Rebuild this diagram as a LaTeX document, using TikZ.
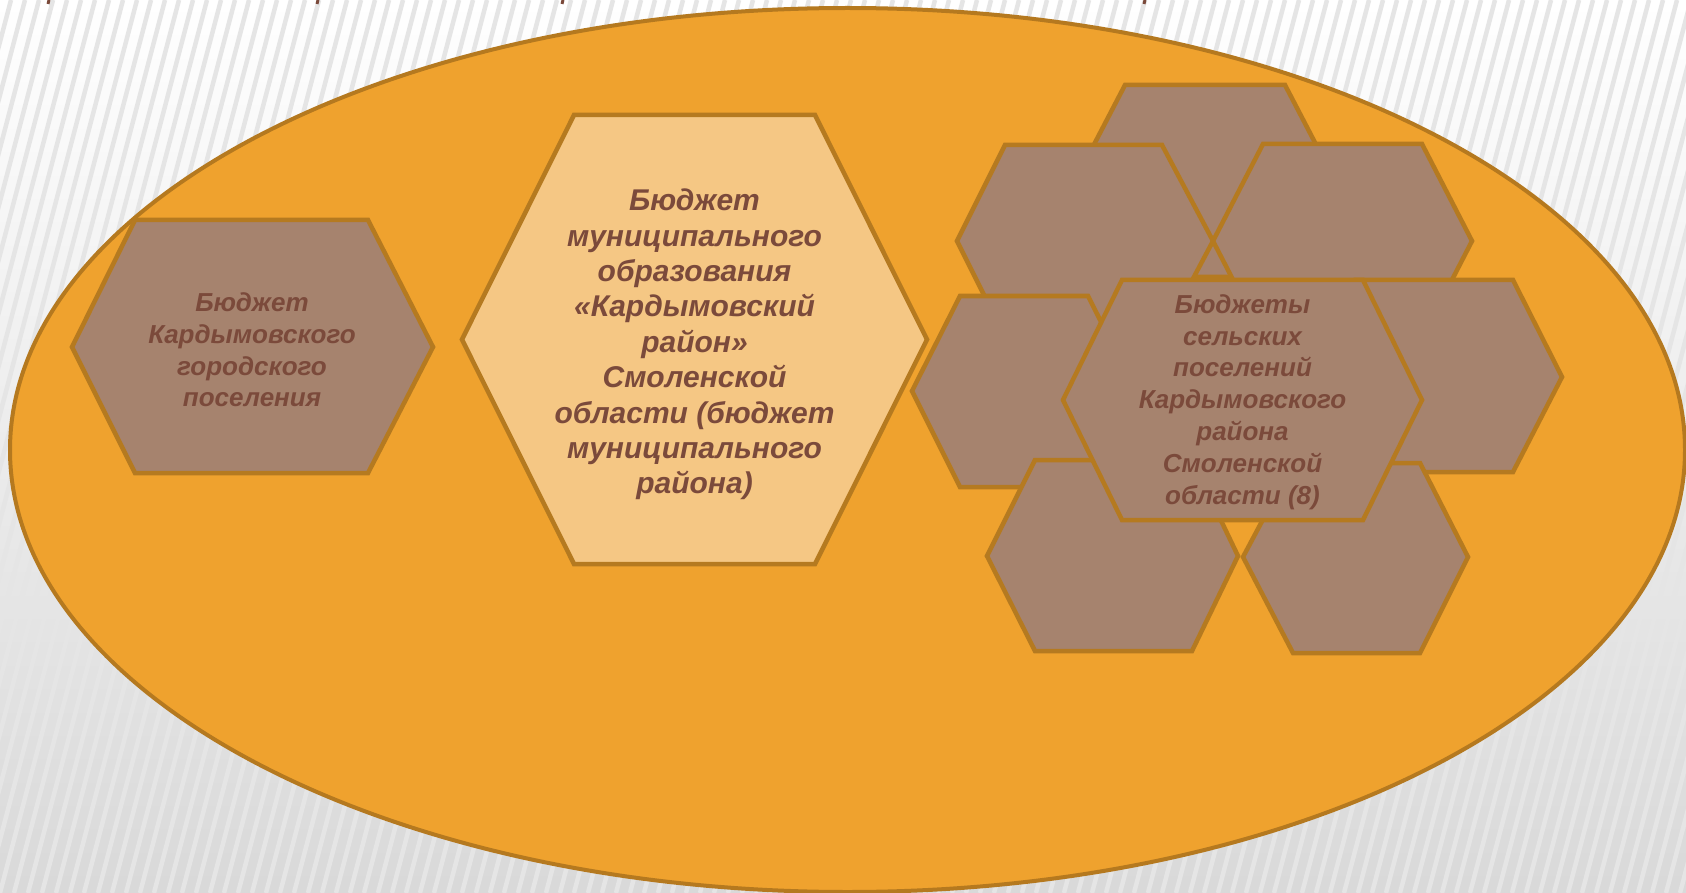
\documentclass[tikz,border=0pt]{standalone}
\usepackage{fontspec}
\setmainfont{Liberation Sans}
\definecolor{orangefill}{HTML}{EFA22E}
\definecolor{ellipseline}{HTML}{B5791F}
\definecolor{hexfill}{HTML}{A6836E}
\definecolor{hexline}{HTML}{B57A20}
\definecolor{lightfill}{HTML}{F5C784}
\definecolor{textbrown}{HTML}{7B4A3B}
% #1 style, #2 x left vertex, #3 x flat left, #4 x flat right, #5 x right vertex,
% #6 y top, #7 y middle, #8 y bottom
\newcommand\hexpoly[8]{%
  \draw[#1] (#2,#7) -- (#3,#6) -- (#4,#6) -- (#5,#7) -- (#4,#8) -- (#3,#8) -- cycle;}
\tikzset{
  hexbrown/.style={fill=hexfill, draw=hexline, line width=4.5pt},
  hexlight/.style={fill=lightfill, draw=hexline, line width=4.5pt},
  hextext/.style={text=textbrown, align=center, inner sep=0pt,
    font=\fontsize{26}{31.8}\selectfont\bfseries\itshape},
  bigtext/.style={text=textbrown, align=center, inner sep=0pt,
    font=\fontsize{30}{35.4}\selectfont\bfseries\itshape},
  stripe/.style={black!10, line width=4.5pt},
  frag/.style={textbrown, line width=3pt}
}
\begin{document}
\begin{tikzpicture}[x=1pt,y=-1pt]
\useasboundingbox (0,0) rectangle (1686,893);
% background with stripes
\fill[top color=white, bottom color=black!15] (0,0) rectangle (1686,893);
\begin{scope}
  \clip (0,0) rectangle (1686,893);
  \foreach \i in {-20,...,125} \draw[stripe] (\i*14,893) -- (\i*14+235,0);
\end{scope}
% fragments of cut-off title
\draw[frag] (49,0) -- (48,4);
\draw[frag] (318,0) -- (317,4);
\draw[frag] (563,0) -- (562,4);
\draw[frag] (1145,0) -- (1144,4);
% big ellipse
\draw[fill=orangefill, draw=ellipseline, line width=4pt]
  (847.5,450) ellipse [x radius=837.5pt, y radius=442pt];
% left hexagon
\hexpoly{hexbrown}{72}{135}{368}{433}{220}{347}{473}
\node[hextext] (lhtext) at (252,350) {Бюджет\\Кардымовского\\городского\\поселения};
% middle light hexagon
\hexpoly{hexlight}{462}{574}{815}{927}{115}{339.5}{564}
\node[bigtext] (mhtext) at (694.5,344.5) {Бюджет\\муниципального\\образования\\«Кардымовский\\район»\\Смоленской\\области (бюджет\\муниципального\\района)};
% cluster of hexagons
\hexpoly{hexbrown}{1075}{1125}{1285}{1335}{85}{181}{277}
\hexpoly{hexbrown}{957}{1005}{1162}{1213}{145}{241}{337}
\hexpoly{hexbrown}{1213}{1263}{1422}{1472}{144}{241}{338}
\hexpoly{hexbrown}{912}{960}{1088}{1136}{296}{391}{487}
\hexpoly{hexbrown}{1306}{1355}{1513}{1562}{280}{377}{472}
\hexpoly{hexbrown}{987}{1035}{1192}{1238}{460}{556}{651}
\hexpoly{hexbrown}{1243}{1293}{1420}{1468}{463}{557}{653}
\hexpoly{hexbrown}{1063}{1122}{1363}{1422}{280}{400}{520}
\node[hextext] (ctext) at (1242.5,402) {Бюджеты\\сельских\\поселений\\Кардымовского\\района\\Смоленской\\области (8)};
\end{tikzpicture}
\end{document}
